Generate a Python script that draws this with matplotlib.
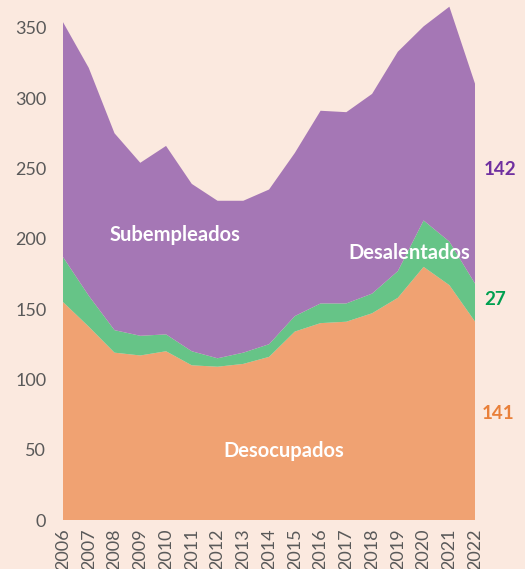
import matplotlib.pyplot as plt

years = list(range(2006, 2023))
desocupados = [155, 137.5, 119, 117, 120, 110, 109, 111, 116, 134, 140, 141, 147, 158, 180, 167, 141]
desalentados = [32, 22, 16, 14, 12, 10, 6, 8, 9, 11, 14, 13, 14, 19, 33, 31, 27]
subempleados = [167, 162, 140, 123, 134, 119, 112, 108, 110, 116, 137, 136, 142, 156, 138, 167, 142]

bg = '#FBE9DF'
c_deso = '#F0A272'
c_desa = '#66C487'
c_sub = '#A577B5'

plt.rcParams['font.family'] = ['Lato', 'DejaVu Sans']

fig = plt.figure(figsize=(5.25, 5.69), dpi=100, facecolor=bg)
ax = fig.add_axes([0.12, 0.0861, 0.785, 0.914])
ax.set_facecolor(bg)

ax.stackplot(years, desocupados, desalentados, subempleados,
             colors=[c_deso, c_desa, c_sub], linewidth=0)

ax.set_xlim(2006, 2022)
ax.set_ylim(0, 369.8)
ax.set_yticks(range(0, 351, 50))
ax.set_xticks(years)
ax.set_xticklabels([str(y) for y in years], rotation=90)
ax.tick_params(length=0, labelsize=13, colors='#595959', pad=6)
ax.tick_params(axis='y', pad=12)
for s in ax.spines.values():
    s.set_visible(False)

# etiquetas dentro de las areas
ax.text(2010.35, 203, 'Subempleados', color='white', fontsize=14.5,
        fontweight='bold', ha='center', va='center')
ax.text(2019.44, 190, 'Desalentados', color='white', fontsize=14.5,
        fontweight='bold', ha='center', va='center')
ax.text(2014.58, 49, 'Desocupados', color='white', fontsize=14.5,
        fontweight='bold', ha='center', va='center')

# valores 2022 a la derecha
ax.text(2022.95, 249, str(subempleados[-1]), color='#7030A0', fontsize=13.5,
        fontweight='bold', ha='center', va='center', clip_on=False)
ax.text(2022.78, 157, str(desalentados[-1]), color='#00A050', fontsize=13.5,
        fontweight='bold', ha='center', va='center', clip_on=False)
ax.text(2022.9, 76, str(desocupados[-1]), color='#E9803A', fontsize=13.5,
        fontweight='bold', ha='center', va='center', clip_on=False)

fig.savefig('out.png', dpi=100, facecolor=bg)
